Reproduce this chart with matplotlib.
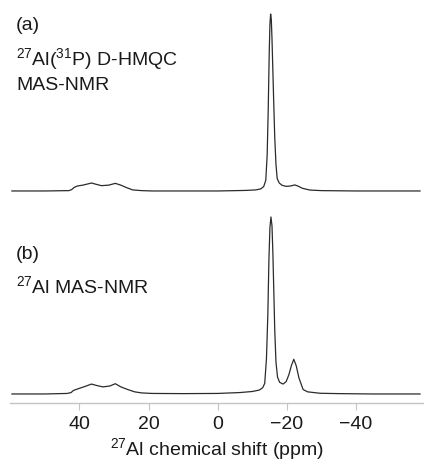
#!/usr/bin/env python3
import matplotlib
matplotlib.use('Agg')
import matplotlib.pyplot as plt

# figure size in pixels
W, H = 424, 463

plt.rcParams['font.family'] = ['Liberation Sans', 'DejaVu Sans']
plt.rcParams['mathtext.default'] = 'regular'

# spectrum (a): 27Al(31P) D-HMQC (ppm, intensity)
ppm_a = [59.5, 50.0, 43.0, 42.2, 41.5, 40.6, 39.0, 37.5, 36.5, 35.2, 33.6, 31.5,
         29.6, 28.0, 26.5, 24.6, 22.0, 19.0, 10.0, 0.0, -8.0, -11.0, -12.5,
         -13.3, -13.9, -14.3, -14.6, -14.9, -15.1, -15.3, -15.5, -15.7, -15.95,
         -16.2, -16.5, -16.85, -17.2, -17.8, -18.6, -19.8, -21.0, -22.3, -23.2,
         -24.5, -26.7, -30.0, -40.0, -50.0, -58.5]
int_a = [0.0, 0.0, 0.002, 0.008, 0.02, 0.028, 0.033, 0.04, 0.045, 0.038, 0.03, 0.033,
         0.043, 0.033, 0.02, 0.006, 0.002, 0.0, 0.0, 0.0, 0.003, 0.006, 0.012,
         0.025, 0.06, 0.2, 0.45, 0.78, 0.94, 1.0, 0.97, 0.86, 0.68,
         0.5, 0.3, 0.15, 0.07, 0.045, 0.032, 0.026, 0.028, 0.034, 0.028,
         0.015, 0.005, 0.002, 0.0, 0.0, 0.0]

# spectrum (b): 27Al MAS-NMR
ppm_b = [59.5, 50.0, 43.5, 42.4, 41.7, 41.0, 39.5, 38.0, 36.5, 35.0, 33.2, 31.2,
         29.6, 28.0, 26.0, 24.0, 22.0, 19.0, 10.0, 0.0, -6.4, -10.0, -12.0,
         -13.0, -13.6, -14.1, -14.5, -14.8, -15.1, -15.4, -15.7, -15.95, -16.2,
         -16.5, -16.85, -17.3, -17.9, -18.9, -19.8, -20.6, -21.3, -22.0, -22.7,
         -23.5, -24.7, -26.0, -29.6, -35.0, -45.0, -58.5]
int_b = [0.0, 0.0, 0.003, 0.008, 0.02, 0.025, 0.035, 0.045, 0.056, 0.048, 0.04, 0.045,
         0.058, 0.04, 0.025, 0.012, 0.006, 0.003, 0.002, 0.003, 0.008, 0.014, 0.022,
         0.035, 0.06, 0.2, 0.45, 0.75, 0.94, 1.0, 0.95, 0.8, 0.6,
         0.36, 0.18, 0.095, 0.066, 0.056, 0.07, 0.11, 0.16, 0.196, 0.16,
         0.09, 0.025, 0.012, 0.004, 0.002, 0.0, 0.0]

offset_a = 1.147
xticks = [40, 20, 0, -20, -40]

fig = plt.figure(figsize=(W / 100, H / 100), dpi=100)
ax = fig.add_axes([10 / W, (H - 403) / H, 1 - 10 / W, 403 / H])

ax.plot(ppm_a, [v + offset_a for v in int_a], color='#2b2b2b', lw=0.9)
ax.plot(ppm_b, int_b, color='#2b2b2b', lw=0.9)

ax.set_xlim(60.05, -59.65)
ax.set_ylim(-0.051, 2.226)
ax.set_xticks(xticks)
ax.set_xticklabels(['\u2212' + str(-t) if t < 0 else str(t) for t in xticks])
ax.set_yticks([])
for s in ['top', 'left', 'right']:
    ax.spines[s].set_visible(False)
ax.spines['bottom'].set_color('#c4c4c4')
ax.spines['bottom'].set_linewidth(1.0)
ax.tick_params(axis='x', length=5, width=0.8, color='#c4c4c4', labelsize=14,
               labelcolor='#1a1a1a', pad=4.5)
ax.set_xlabel('$^{27}$Al chemical shift (ppm)', fontsize=14, color='#1a1a1a', labelpad=2)

# labels, baselines in pixels from the top
def label(txt, x, y):
    fig.text(x / W, 1 - y / H, txt, fontsize=14, color='#1a1a1a', va='baseline', ha='left')

label('(a)', 16, 30)
label('$^{27}$Al($^{31}$P) D-HMQC', 16, 65)
label('MAS-NMR', 16, 90)
label('(b)', 16, 259)
label('$^{27}$Al MAS-NMR', 16, 293)

fig.savefig('out.png', dpi=100)
